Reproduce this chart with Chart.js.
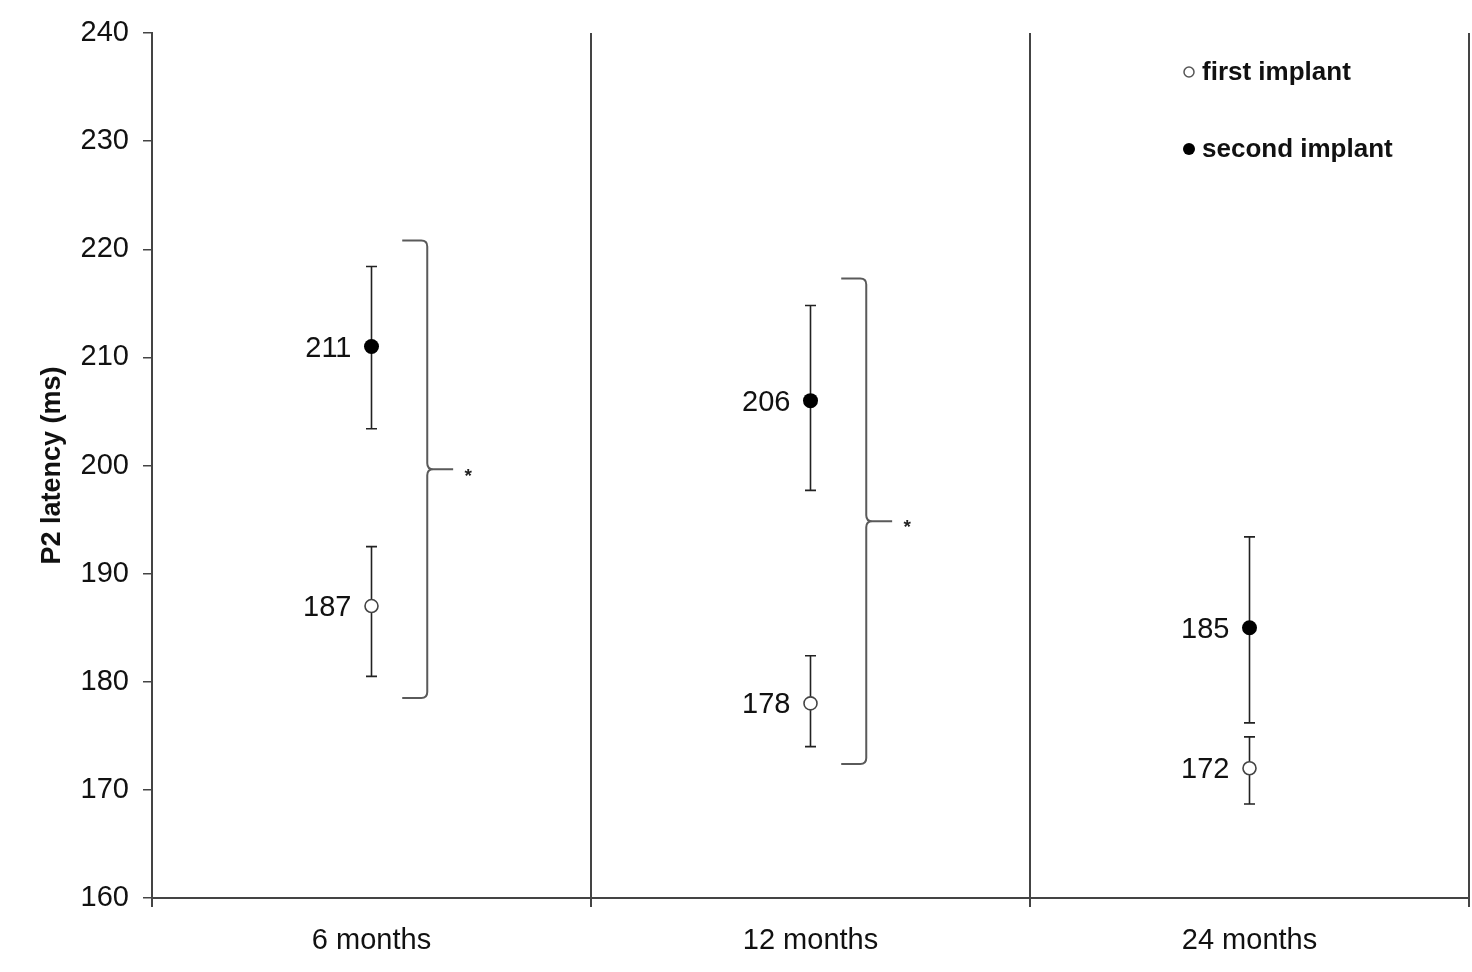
<!DOCTYPE html>
<html>
<head>
<meta charset="utf-8">
<script src="https://cdn.jsdelivr.net/npm/chart.js@4.4.1/dist/chart.umd.min.js"></script>
<style>
  html, body { margin: 0; padding: 0; background: #ffffff; overflow: hidden; }
  #wrap { width: 1472px; height: 972px; position: relative; }
</style>
</head>
<body>
<div id="wrap"><canvas id="c" width="1472" height="972"></canvas></div>
<script>
// Follow-up periods
const categories = ['6 months', '12 months', '24 months'];

// Mean P2 latency (ms) and error-bar limits for each implant
const firstImplant  = [187, 178, 172];
const firstUpper    = [192.5, 182.4, 174.9];
const firstLower    = [180.5, 174.0, 168.7];
const secondImplant = [211, 206, 185];
const secondUpper   = [218.4, 214.8, 193.4];
const secondLower   = [203.4, 197.7, 176.2];
const seriesNames   = ['first implant', 'second implant'];

// Significance brackets (category index, vertical extent, marker)
const bracketCats   = [0, 1];
const bracketTop    = [220.8, 217.3];
const bracketBottom = [178.5, 172.4];
const bracketMarks  = ['*', '*'];

// Y axis range and tick labels
const yTicks = [160, 170, 180, 190, 200, 210, 220, 230, 240];

const FONT = "'Liberation Sans', Arial, Helvetica, sans-serif";
const AXIS_COLOR = '#444444';
const TEXT_COLOR = '#111111';

const errorLimits = [
  { upper: firstUpper, lower: firstLower },
  { upper: secondUpper, lower: secondLower }
];

// Vertical error bars with short caps, drawn underneath the markers
const errorBarPlugin = {
  id: 'errorBars',
  beforeDatasetsDraw(chart) {
    const { ctx, scales: { x, y } } = chart;
    ctx.save();
    ctx.strokeStyle = '#222222';
    ctx.lineWidth = 1.6;
    chart.data.datasets.forEach((ds, di) => {
      const lim = errorLimits[di];
      ds.data.forEach((v, i) => {
        const px = x.getPixelForValue(i);
        const yt = y.getPixelForValue(lim.upper[i]);
        const yb = y.getPixelForValue(lim.lower[i]);
        ctx.beginPath();
        ctx.moveTo(px, yt); ctx.lineTo(px, yb);
        ctx.moveTo(px - 5.5, yt); ctx.lineTo(px + 5.5, yt);
        ctx.moveTo(px - 5.5, yb); ctx.lineTo(px + 5.5, yb);
        ctx.stroke();
      });
    });
    ctx.restore();
  }
};

// Mean values written to the left of each marker
const valueLabelPlugin = {
  id: 'valueLabels',
  afterDatasetsDraw(chart) {
    const { ctx, scales: { x, y } } = chart;
    ctx.save();
    ctx.font = '29px ' + FONT;
    ctx.fillStyle = TEXT_COLOR;
    ctx.textAlign = 'right';
    ctx.textBaseline = 'middle';
    chart.data.datasets.forEach(ds => {
      ds.data.forEach((v, i) => {
        ctx.fillText(String(v), x.getPixelForValue(i) - 20, y.getPixelForValue(v) + 2);
      });
    });
    ctx.restore();
  }
};

// Curly-style brackets joining the two implants, with significance marker
const bracketPlugin = {
  id: 'brackets',
  afterDatasetsDraw(chart) {
    const { ctx, chartArea, scales: { x, y } } = chart;
    const catW = chartArea.width / categories.length;
    ctx.save();
    ctx.strokeStyle = '#5a5a5a';
    ctx.lineWidth = 2;
    bracketCats.forEach((c, k) => {
      const cx = x.getPixelForValue(c);
      const xl = cx + 0.070 * catW;
      const xv = cx + 0.127 * catW;
      const xt = cx + 0.186 * catW;
      const yt = y.getPixelForValue(bracketTop[k]);
      const yb = y.getPixelForValue(bracketBottom[k]);
      const ym = (yt + yb) / 2;
      const r = 6;
      ctx.beginPath();
      ctx.moveTo(xl, yt);
      ctx.lineTo(xv - r, yt);
      ctx.quadraticCurveTo(xv, yt, xv, yt + r);
      ctx.lineTo(xv, ym - r);
      ctx.quadraticCurveTo(xv, ym, xv + r, ym);
      ctx.lineTo(xt, ym);
      ctx.moveTo(xv + r, ym);
      ctx.quadraticCurveTo(xv, ym, xv, ym + r);
      ctx.lineTo(xv, yb - r);
      ctx.quadraticCurveTo(xv, yb, xv - r, yb);
      ctx.lineTo(xl, yb);
      ctx.stroke();
      ctx.fillStyle = '#222222';
      ctx.font = 'bold 19px ' + FONT;
      ctx.textAlign = 'center';
      ctx.textBaseline = 'middle';
      ctx.fillText(bracketMarks[k], cx + 0.22 * catW, ym + 7);
    });
    ctx.restore();
  }
};

// Legend in the upper right of the plot
const legendPlugin = {
  id: 'cornerLegend',
  afterDraw(chart) {
    const { ctx } = chart;
    const rows = [72, 149];
    ctx.save();
    chart.data.datasets.forEach((ds, i) => {
      const mx = 1189, my = rows[i];
      ctx.beginPath();
      ctx.arc(mx, my, i === 0 ? 5 : 6, 0, Math.PI * 2);
      if (i === 0) {
        ctx.fillStyle = '#ffffff'; ctx.fill();
        ctx.strokeStyle = '#555555'; ctx.lineWidth = 1.5; ctx.stroke();
      } else {
        ctx.fillStyle = '#000000'; ctx.fill();
      }
      ctx.font = 'bold 26px ' + FONT;
      ctx.fillStyle = TEXT_COLOR;
      ctx.textAlign = 'left';
      ctx.textBaseline = 'middle';
      ctx.fillText(ds.label, 1202, my + 1);
    });
    ctx.restore();
  }
};

new Chart(document.getElementById('c'), {
  type: 'line',
  data: {
    labels: categories,
    datasets: [
      {
        label: seriesNames[0],
        data: firstImplant,
        showLine: false,
        pointRadius: 6.5,
        pointHoverRadius: 6.5,
        pointBackgroundColor: '#ffffff',
        pointBorderColor: '#444444',
        pointBorderWidth: 1.6
      },
      {
        label: seriesNames[1],
        data: secondImplant,
        showLine: false,
        pointRadius: 7.5,
        pointHoverRadius: 7.5,
        pointBackgroundColor: '#000000',
        pointBorderColor: '#000000',
        pointBorderWidth: 0
      }
    ]
  },
  options: {
    responsive: false,
    animation: false,
    events: [],
    layout: { autoPadding: false, padding: { top: 33, right: 3, left: 0, bottom: 0 } },
    plugins: {
      legend: { display: false },
      tooltip: { enabled: false },
      title: { display: false }
    },
    scales: {
      x: {
        type: 'category',
        offset: true,
        grid: {
          offset: true,
          drawOnChartArea: true,
          drawTicks: true,
          tickLength: 9,
          color: AXIS_COLOR,
          lineWidth: 2
        },
        border: { display: true, color: AXIS_COLOR, width: 2 },
        ticks: {
          font: { family: FONT, size: 29 },
          color: TEXT_COLOR,
          padding: 17,
          maxRotation: 0
        },
        afterFit(scale) {
          scale.height = 74;
          scale.paddingLeft = 0;
          scale.paddingRight = 0;
        }
      },
      y: {
        min: yTicks[0],
        max: yTicks[yTicks.length - 1],
        afterBuildTicks(scale) { scale.ticks = yTicks.map(v => ({ value: v })); },
        grid: {
          drawOnChartArea: false,
          drawTicks: true,
          tickLength: 9,
          color: AXIS_COLOR,
          lineWidth: 1.5
        },
        border: { display: true, color: AXIS_COLOR, width: 2 },
        ticks: {
          font: { family: FONT, size: 29 },
          color: TEXT_COLOR,
          padding: 14
        },
        title: {
          display: true,
          text: 'P2 latency (ms)',
          font: { family: FONT, size: 27, weight: 'bold' },
          color: TEXT_COLOR,
          padding: { top: 36, bottom: 0 }
        },
        afterFit(scale) {
          scale.width = 152;
          scale.paddingTop = 0;
          scale.paddingBottom = 0;
        }
      }
    }
  },
  plugins: [errorBarPlugin, valueLabelPlugin, bracketPlugin, legendPlugin]
});
</script>
</body>
</html>
